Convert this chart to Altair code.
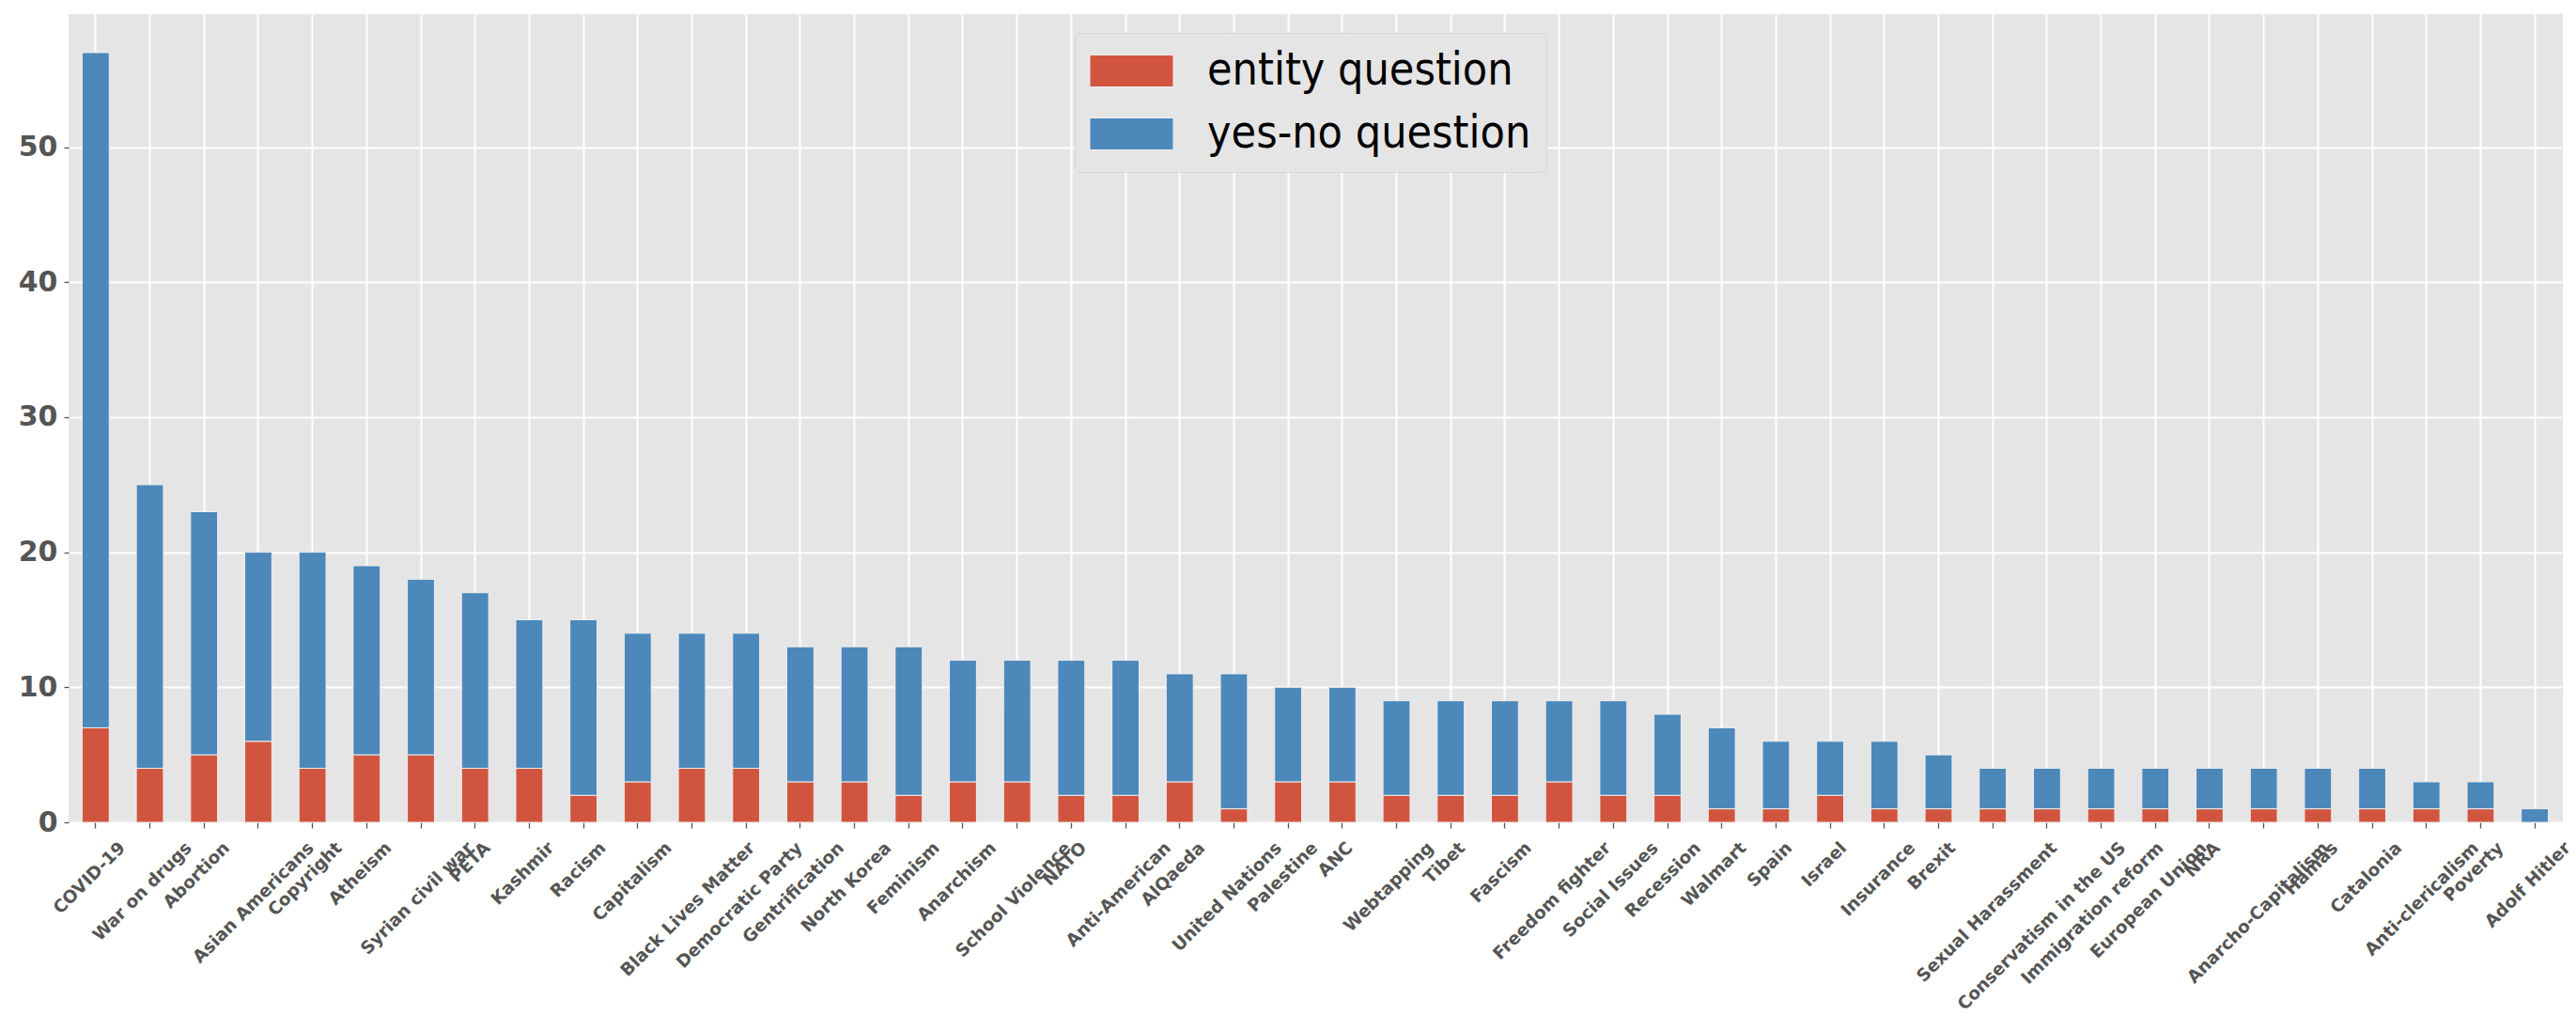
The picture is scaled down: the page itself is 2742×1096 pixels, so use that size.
import altair as alt
import pandas as pd

cats = ["COVID-19", "War on drugs", "Abortion", "Asian Americans", "Copyright", "Atheism",
        "Syrian civil war", "PETA", "Kashmir", "Racism", "Capitalism", "Black Lives Matter",
        "Democratic Party", "Gentrification", "North Korea", "Feminism", "Anarchism",
        "School Violence", "NATO", "Anti-American", "AlQaeda", "United Nations", "Palestine",
        "ANC", "Webtapping", "Tibet", "Fascism", "Freedom fighter", "Social Issues", "Recession",
        "Walmart", "Spain", "Israel", "Insurance", "Brexit", "Sexual Harassment",
        "Conservatism in the US", "Immigration reform", "European Union", "NRA",
        "Anarcho-Capitalism", "Hamas", "Catalonia", "Anti-clericalism", "Poverty", "Adolf Hitler"]

entity_q = [7, 4, 5, 6, 4, 5, 5, 4, 4, 2,
            3, 4, 4, 3, 3, 2, 3, 3, 2, 2,
            3, 1, 3, 3, 2, 2, 2, 3, 2, 2,
            1, 1, 2, 1, 1, 1, 1, 1, 1, 1,
            1, 1, 1, 1, 1, 0]

yesno_q = [50, 21, 18, 14, 16, 14, 13, 13, 11, 13,
           11, 10, 10, 10, 10, 11, 9, 9, 10, 10,
           8, 10, 7, 7, 7, 7, 7, 6, 7, 6,
           6, 5, 4, 5, 4, 3, 3, 3, 3, 3,
           3, 3, 3, 2, 2, 1]

series = ["entity question", "yes-no question"]
colors = ["#D1553E", "#4C88BA"]

rows = []
for c, e, y in zip(cats, entity_q, yesno_q):
    rows.append({"cat": c, "type": series[0], "count": e, "ord": 0})
    rows.append({"cat": c, "type": series[1], "count": y, "ord": 1})
df = pd.DataFrame(rows)
lab_df = pd.DataFrame({"cat": cats})

xscale = alt.Scale(paddingInner=0.5, paddingOuter=0.25)

bars = alt.Chart(df).mark_bar(stroke="#EEEEEE", strokeWidth=1).encode(
    x=alt.X("cat:N", sort=cats, scale=xscale,
            axis=alt.Axis(labels=False, title=None, domain=False, ticks=True, tickSize=6,
                          tickColor="#555555", tickWidth=1.3, bandPosition=0.5,
                          grid=True, gridColor="#FFFFFF", gridWidth=2)),
    y=alt.Y("count:Q", stack="zero",
            scale=alt.Scale(domain=[0, 59.85], nice=False),
            axis=alt.Axis(values=[0, 10, 20, 30, 40, 50], format="d", title=None,
                          labelFont="DejaVu Sans", labelFontWeight="bold", labelFontSize=30,
                          labelColor="#555555", tickColor="#555555", tickSize=5,
                          tickWidth=1.3, labelPadding=7, domain=False, grid=True,
                          gridColor="#FFFFFF", gridWidth=2)),
    color=alt.Color("type:N", scale=alt.Scale(domain=series, range=colors),
                    legend=alt.Legend(title=None, orient="none", legendX=1071, legendY=20,
                                      fillColor="#E5E5E5", strokeColor="#D6D6D6",
                                      cornerRadius=6, padding=16, rowPadding=18,
                                      labelFont="DejaVu Sans Condensed, Liberation Sans Narrow, DejaVu Sans",
                                      labelFontSize=48, labelColor="#000000",
                                      labelOffset=56, labelLimit=1000,
                                      symbolType="M-1.854,-0.708H1.854V0.708H-1.854Z",
                                      symbolSize=2304, symbolOffset=20,
                                      symbolStrokeColor="#EEEEEE", symbolStrokeWidth=1,
                                      symbolOpacity=1)),
    order=alt.Order("ord:Q"),
)

FS = 18.5
width_expr = (f"{FS}*(0.69*length(datum.cat)"
              " - 0.29*(length(datum.cat) - length(replace(datum.cat, regexp('[iltfrjI -]', 'g'), '')))"
              " + 0.31*(length(datum.cat) - length(replace(datum.cat, regexp('[mwMW]', 'g'), '')))"
              " + 0.08*(length(datum.cat) - length(replace(datum.cat, regexp('[A-HJ-LN-VX-Z0-9]', 'g'), ''))))")
H = 1.164 * FS

labels = alt.Chart(lab_df).transform_calculate(
    lw=width_expr
).mark_text(
    align="right", baseline="top", angle=315, font="DejaVu Sans", fontWeight="bold",
    fontSize=FS, color="#555555",
    dx={"expr": f"(datum.lw - {H:.2f})/4 - 5.5"},
    dy={"expr": f"(datum.lw - {H:.2f})/4 + {0.138 * FS:.2f} - 5.5"},
).encode(
    x=alt.X("cat:N", sort=cats, scale=xscale),
    y=alt.value(876),
    text="cat:N",
)

chart = alt.layer(bars, labels).properties(
    width=2654, height=860,
    autosize=alt.AutoSizeParams(type="none"),
    padding={"left": 65, "top": 7, "right": 7, "bottom": 213},
).configure_view(fill="#E5E5E5", stroke="#E5E5E5")

chart.save("out.html", embed_options={"renderer": "svg", "actions": False})
